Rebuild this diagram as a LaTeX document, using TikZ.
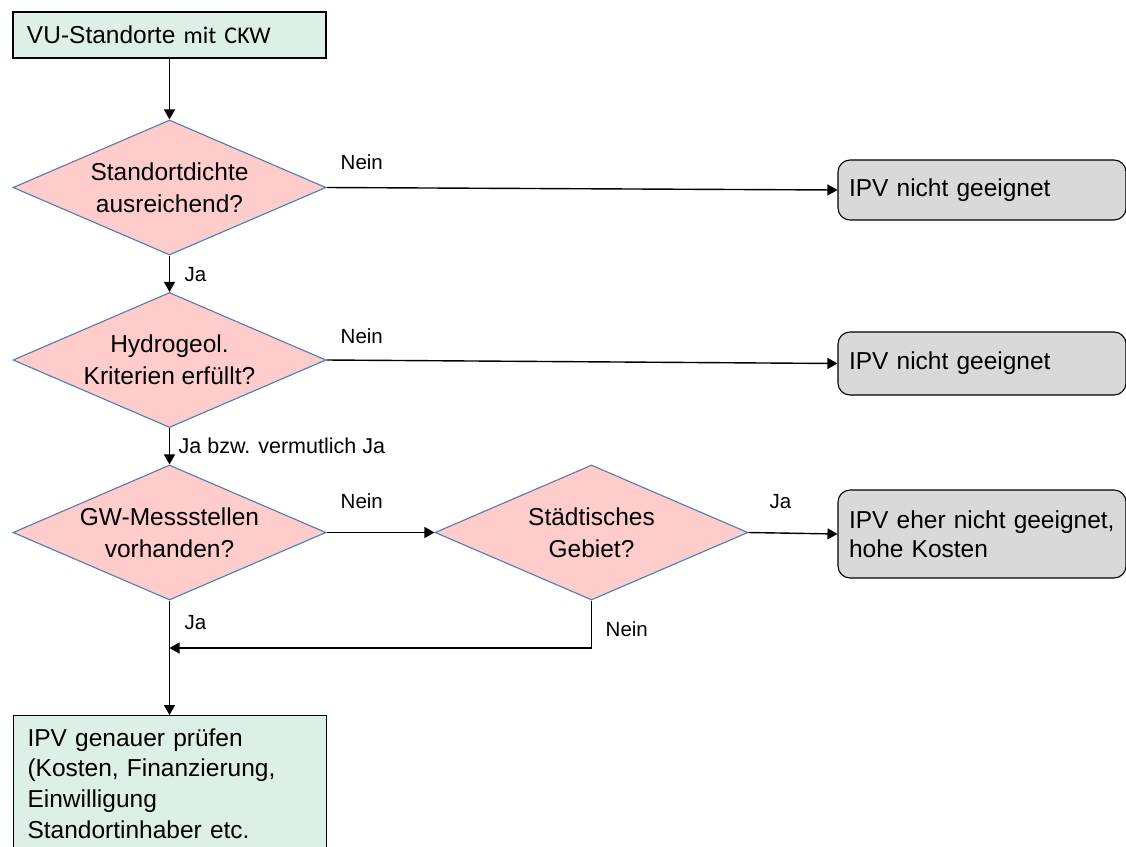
\documentclass[tikz,border=0pt]{standalone}
\usepackage{fontspec}
\setmainfont{Liberation Sans}
\newfontfamily\calibri{Carlito}
\usepackage{tikz}
\definecolor{boxgreen}{RGB}{221,240,231}
\definecolor{boxpink}{RGB}{255,204,204}
\definecolor{boxgrey}{RGB}{217,217,217}
\definecolor{rimblue}{RGB}{79,125,178}
\usetikzlibrary{shapes.geometric,arrows.meta}

\begin{document}
\begin{tikzpicture}[x=1pt,y=-1pt,line width=1.4pt,
    font=\fontsize{24.5}{32}\selectfont,
    decision/.style={diamond,draw=rimblue,line width=1.1pt,fill=boxpink,aspect=2.3,
        minimum width=313pt,minimum height=135pt,inner sep=0pt,align=center},
    greenbox/.style={rectangle,draw,line width=1.1pt,fill=boxgreen,align=left,
        text width=285pt,inner xsep=14pt,inner ysep=0pt},
    greybox/.style={rectangle,draw,line width=1.1pt,rounded corners=12pt,fill=boxgrey,
        align=left,text width=266pt,inner xsep=11pt,inner ysep=0pt},
    lbl/.style={font=\fontsize{20.5}{24}\selectfont,anchor=west,inner sep=0pt},
    flow/.style={-{Triangle[length=10pt,width=11pt]}}]
    \useasboundingbox (0,0) rectangle (1126,846);
    \clip (0,0) rectangle (1126,846);

    % boxes on the left
    \node[greenbox,minimum height=46pt] (start) at (169.5,35)
        {VU-Standorte {\calibri\fontsize{24}{28}\selectfont mit CKW}};
    \node[decision] (dense) at (169.5,187.5) {Standortdichte\\ausreichend?};
    \node[decision] (hydro) at (169.5,360) {Hydrogeol.\\Kriterien erfüllt?};
    \node[decision] (gwm) at (169.5,532.5) {GW-Messstellen\\vorhanden?};
    \node[decision] (urban) at (591.5,532.5) {Städtisches\\Gebiet?};
    \node[greenbox,anchor=north west,inner ysep=13pt,
        font=\fontsize{24.5}{30.7}\selectfont] (check) at (13,715)
        {IPV genauer prüfen\\(Kosten, Finanzierung,\\Einwilligung\\Standortinhaber etc.\\ \mbox{}};

    % boxes on the right
    \node[greybox,minimum height=60pt] (nogo1) at (982,190) {IPV nicht geeignet};
    \node[greybox,minimum height=63pt] (nogo2) at (982,363.5) {IPV nicht geeignet};
    \node[greybox,minimum height=88pt,font=\fontsize{24.5}{29}\selectfont] (costly) at (982,534)
        {IPV eher nicht geeignet,\\hohe Kosten};
    \coordinate (merge) at (169.5,648);

    % connectors
    \draw[flow] (start.south) -- (dense.north);
    \draw[flow] (dense.east) -- (nogo1.west);
    \draw[flow] (dense.south) -- (hydro.north);
    \draw[flow] (hydro.east) -- (nogo2.west);
    \draw[flow] (hydro.south) -- (gwm.north);
    \draw[flow] (gwm.east) -- (urban.west);
    \draw[flow] (urban.east) -- (costly.west);
    \draw[flow] (gwm.south) -- (check.north -| gwm.south);
    \draw[flow] (urban.south) |- (merge);

    % labels
    \node[lbl] (n1) at (340,162) {Nein};
    \node[lbl] (j1) at (184,275) {Ja};
    \node[lbl] (n2) at (340,336) {Nein};
    \node[lbl,font=\fontsize{21.5}{24}\selectfont] (j2) at (178,446) {Ja bzw. vermutlich Ja};
    \node[lbl] (n3) at (340,501) {Nein};
    \node[lbl] (j3) at (769,502) {Ja};
    \node[lbl] (j4) at (184,623) {Ja};
    \node[lbl] (n4) at (605,629) {Nein};
\end{tikzpicture}
\end{document}
